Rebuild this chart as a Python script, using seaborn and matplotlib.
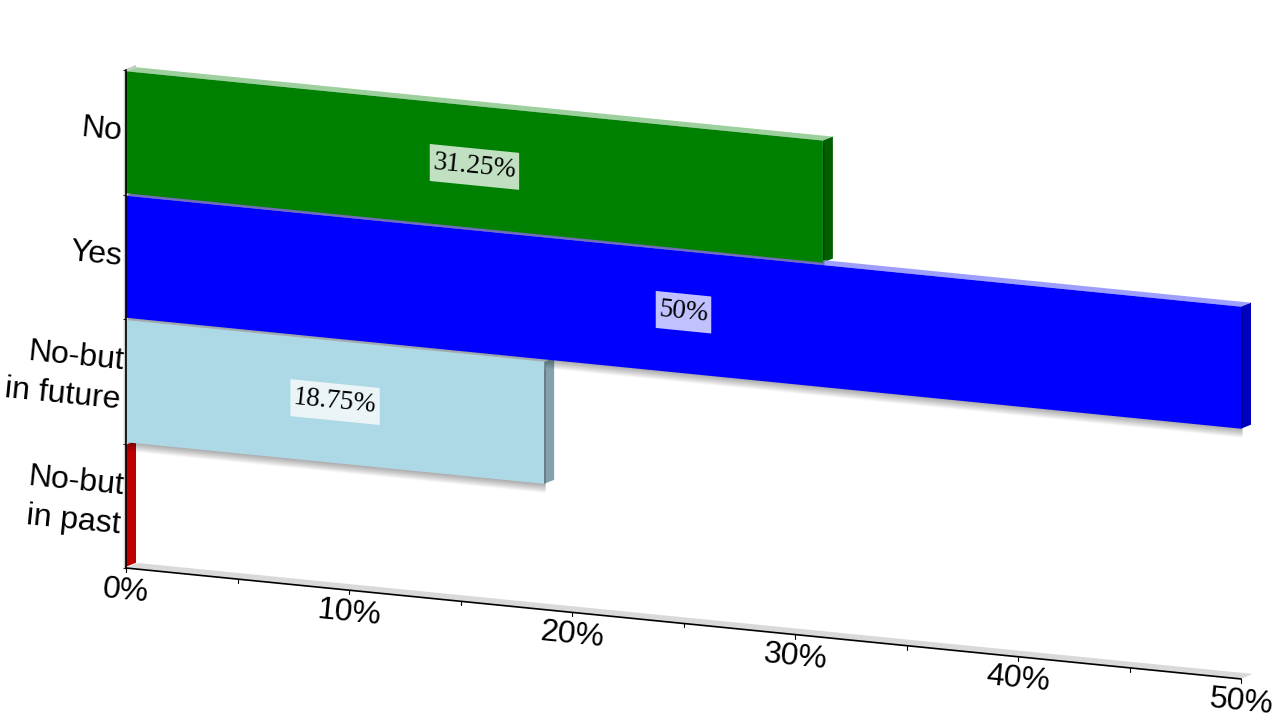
import numpy as np
import pandas as pd
import matplotlib.pyplot as plt
import seaborn as sns
from matplotlib.colors import to_rgb
from matplotlib.patches import Polygon, Rectangle
from matplotlib.transforms import Affine2D, IdentityTransform

# data
categories = ["No", "Yes", "No-but\nin future", "No-but\nin past"]
shares = [31.25, 50, 18.75, 0]
value_labels = ["31.25%", "50%", "18.75%", ""]
bar_colors = ["#008000", "#0000ff", "#add8e6", "#ff0000"]
xtick_major = [0, 10, 20, 30, 40, 50]
xtick_minor = [5, 15, 25, 35, 45]
xtick_labels = ["0%", "10%", "20%", "30%", "40%", "50%"]

# fake 3d look
x0_px = 126
slope = 0.0995
angle = -5.7
depth = np.array([10, 4])
floor_depth = np.array([12, 5])
floor_color = "#d9d9d9"

df = pd.DataFrame({"answer": categories, "share": shares})

sns.set_theme(style="white")
plt.rcParams["font.family"] = ["Liberation Sans", "DejaVu Sans"]

fig = plt.figure(figsize=(12.8, 7.2), dpi=100, facecolor="white")
ax = fig.add_axes([x0_px / 1280, 1 - 568 / 720, 1115 / 1280, 498 / 720])
sns.barplot(data=df, x="share", y="answer", hue="answer", palette=bar_colors,
            order=categories, hue_order=categories, width=0.98, saturation=1,
            legend=False, ax=ax)
bars = sorted(ax.patches, key=lambda p: p.get_y())
ax.set_xlim(0, 50)
ax.set_ylim(3.5, -0.5)
ax.set_xlabel("")
ax.set_ylabel("")
ax.patch.set_visible(False)

# shear in display space, x=0 stays where it is
lean = Affine2D.from_values(1, -slope, 0, 1, 0, slope * x0_px)
lean_data = ax.transData + lean


def px(x, y):
    return lean_data.transform((x, y))


def face(points, color, zorder, **kw):
    ax.add_patch(Polygon(points, closed=True, facecolor=color, edgecolor="none",
                         transform=IdentityTransform(), clip_on=False, zorder=zorder, **kw))


def shade(color, f):
    return tuple(c * f for c in to_rgb(color))


def tint(color, f):
    return tuple(c + (1 - c) * f for c in to_rgb(color))


# floor and wall edge
a, b = px(0, 3.5), px(50, 3.5)
face([a, b, b + floor_depth, a + floor_depth], floor_color, 1)
a = px(0, -0.5)
face([a + [0, -1], a + [0, 1], a + depth + [0, 1], a + depth + [0, -1]], "#c4c4c4", 1)

# soft shadow left of the y axis
a, b = px(0, -0.5), px(0, 3.5)
for k, al in [(1, 0.22), (2, 0.12), (3, 0.05)]:
    face([a, b, b + [-k, 0], a + [-k, 0]], "black", 1, alpha=al)

# top and side faces go under the shadows, front faces over them
for i, (bar, color) in enumerate(zip(bars, bar_colors)):
    x1 = bar.get_x() + bar.get_width()
    y_top, y_bot = bar.get_y(), bar.get_y() + bar.get_height()
    tl, tr, br = px(0, y_top), px(x1, y_top), px(x1, y_bot)
    face([tl, tr, tr + depth, tl + depth], tint(color, 0.62), 5)
    face([tr, br, br + depth, tr + depth], shade(color, 0.75), 5)
    bar.set_transform(lean_data)
    bar.set_edgecolor("none")
    bar.set_linewidth(0)
    bar.set_clip_on(False)
    bar.set_zorder(20 - i)
    if shares[i] > 0:
        # blurred drop shadow, stack of faint copies
        for k in range(1, 10):
            sh = Rectangle((bar.get_x(), y_top), x1, bar.get_height(), facecolor="black",
                           edgecolor="none", alpha=0.04, clip_on=False, zorder=6,
                           transform=lean_data + Affine2D().translate(1.5, -k))
            ax.add_patch(sh)

# value labels with a sheared see-through box
renderer = fig.canvas.get_renderer()
for i, (v, lab) in enumerate(zip(shares, value_labels)):
    if not lab:
        continue
    t = ax.text(v / 2, i, lab, family="Liberation Serif", fontsize=19.5, color="black",
                ha="center", va="center", transform=lean_data, zorder=60,
                clip_on=False, rotation_mode="anchor")
    w = t.get_window_extent(renderer).width + 6
    t.set_rotation(angle)
    c = ax.transData.transform((v / 2, i))
    ax.add_patch(Rectangle((c[0] - w / 2, c[1] - 18.5), w, 37, facecolor="white",
                           edgecolor="none", alpha=0.76, clip_on=False, zorder=59,
                           transform=lean))

# y axis is a real one, x=0 does not move under the shear
sns.despine(ax=ax, top=True, right=True, bottom=True)
ax.spines["left"].set_color("black")
ax.spines["left"].set_linewidth(1.2)
ax.spines["left"].set_zorder(70)
ax.set_xticks([])
ax.set_yticks(range(len(categories)))
ax.set_yticklabels(categories, fontsize=23, color="black", rotation=angle, ha="right",
                   va="center", rotation_mode="anchor", multialignment="right", linespacing=1.38)
ax.set_yticks(np.arange(-0.5, 4, 1), minor=True)
ax.tick_params(axis="y", which="major", length=0, pad=3, left=False)
ax.tick_params(axis="y", which="minor", length=2.5, width=0.8, color="#333333", left=True)

# x axis line, ticks and labels follow the shear
ax.plot([0, 50], [3.5, 3.5], color="black", lw=1.2, transform=lean_data, clip_on=False, zorder=8)
for v in xtick_major + xtick_minor:
    p = px(v, 3.5)
    ax.plot([p[0], p[0]], [p[1], p[1] - 4], color="black", lw=0.8,
            transform=IdentityTransform(), clip_on=False, zorder=8)
for v, lab in zip(xtick_major, xtick_labels):
    ax.annotate(lab, xy=(v, 3.5), xycoords=lean_data, xytext=(0, -16.5),
                textcoords="offset points", fontsize=23, color="black", ha="center",
                va="center", rotation=angle, rotation_mode="anchor", annotation_clip=False)

fig.savefig("out.png", dpi=100)
